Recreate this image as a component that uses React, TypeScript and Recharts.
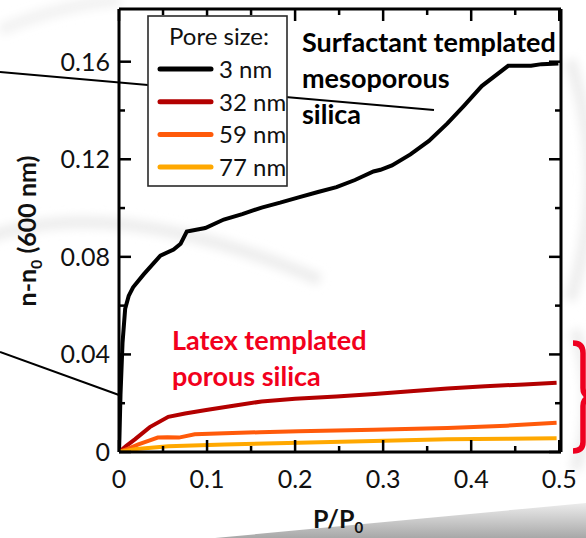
import React from 'react';
import { LineChart, Line, XAxis, YAxis, Legend } from 'recharts';

// ---- data (P/P0 and n-n0 at 600 nm) ----
const p3nm = [0, 0.0005, 0.0017, 0.004, 0.007, 0.011, 0.016, 0.028, 0.047, 0.062, 0.07, 0.077, 0.098, 0.119, 0.14, 0.162, 0.183, 0.204, 0.226, 0.247, 0.268, 0.289, 0.297, 0.31, 0.331, 0.352, 0.373, 0.392, 0.412, 0.442, 0.468, 0.48, 0.499];
const v3nm = [0, 0.006, 0.0235, 0.0447, 0.0587, 0.064, 0.0675, 0.0728, 0.0805, 0.083, 0.0854, 0.0904, 0.0918, 0.0953, 0.0975, 0.1002, 0.1022, 0.1044, 0.1066, 0.1086, 0.1115, 0.115, 0.1157, 0.1175, 0.122, 0.1275, 0.1347, 0.142, 0.15, 0.1583, 0.1583, 0.159, 0.1593];

const p32nm = [0, 0.008, 0.018, 0.035, 0.056, 0.075, 0.099, 0.13, 0.162, 0.2, 0.247, 0.29, 0.331, 0.373, 0.416, 0.46, 0.497];
const v32nm = [0, 0.0024, 0.0052, 0.0102, 0.0144, 0.0158, 0.0172, 0.019, 0.0207, 0.0218, 0.0228, 0.0238, 0.0249, 0.026, 0.027, 0.0277, 0.0284];

const p59nm = [0, 0.01, 0.022, 0.035, 0.044, 0.055, 0.068, 0.086, 0.12, 0.16, 0.204, 0.289, 0.373, 0.44, 0.497];
const v59nm = [0, 0.0013, 0.0031, 0.0048, 0.0059, 0.006, 0.0059, 0.0073, 0.0077, 0.0081, 0.0085, 0.0091, 0.0098, 0.0108, 0.012];

const p77nm = [0, 0.02, 0.056, 0.12, 0.204, 0.289, 0.373, 0.44, 0.497];
const v77nm = [0, 0.0012, 0.0024, 0.0031, 0.0038, 0.0045, 0.0052, 0.0054, 0.0056];

const seriesNames = ['3 nm', '32 nm', '59 nm', '77 nm'];
const seriesColors = ['#000000', '#b30000', '#ff5a0a', '#ffa800'];

const xTicks = [0, 0.05, 0.1, 0.15, 0.2, 0.25, 0.3, 0.35, 0.4, 0.45, 0.5];
const yTicks = [0, 0.02, 0.04, 0.06, 0.08, 0.1, 0.12, 0.14, 0.16];
const xDomain = [0, 0.502];
const yDomain = [0, 0.1816];

const FONT = 'Lato, "Open Sans", sans-serif';

const rows = (p: number[], v: number[]) => p.map((x, i) => ({ p: x, v: v[i] }));
const seriesData = [rows(p3nm, v3nm), rows(p32nm, v32nm), rows(p59nm, v59nm), rows(p77nm, v77nm)];

const isMajorX = (v: number) => Math.round(v * 100) % 10 === 0;
const isMajorY = (v: number) => Math.round(v * 100) % 4 === 0;
const fmtX = (v: number) => (v === 0 ? '0' : v.toFixed(1));
const fmtY = (v: number) => (v === 0 ? '0' : v.toFixed(2));

const TICK_W = 2.5;

const BottomTick = (props: any) => {
  const { x, y, payload } = props;
  const major = isMajorX(payload.value);
  return (
    <g>
      <line x1={x} x2={x} y1={y} y2={y - (major ? 12 : 6)} stroke="#000" strokeWidth={TICK_W} />
      {major && (
        <text x={x} y={y + 36} textAnchor="middle" fontSize={25} fontFamily={FONT} fill="#111">
          {fmtX(payload.value)}
        </text>
      )}
    </g>
  );
};

const TopTick = (props: any) => {
  const { x, y, payload } = props;
  const major = isMajorX(payload.value);
  return <line x1={x} x2={x} y1={y} y2={y + (major ? 12 : 6)} stroke="#000" strokeWidth={TICK_W} />;
};

const LeftTick = (props: any) => {
  const { x, y, payload } = props;
  const major = isMajorY(payload.value);
  return (
    <g>
      <line x1={x} x2={x + (major ? 12 : 6)} y1={y} y2={y} stroke="#000" strokeWidth={TICK_W} />
      {major && (
        <text x={x - 9} y={y + 9} textAnchor="end" fontSize={25} fontFamily={FONT} fill="#111">
          {fmtY(payload.value)}
        </text>
      )}
    </g>
  );
};

const RightTick = (props: any) => {
  const { x, y, payload } = props;
  const major = isMajorY(payload.value);
  return <line x1={x} x2={x - (major ? 12 : 6)} y1={y} y2={y} stroke="#000" strokeWidth={TICK_W} />;
};

const LegendBox = (props: any) => {
  const items = props.payload || [];
  return (
    <svg width={142} height={173} style={{ display: 'block' }}>
      <rect x={1} y={1} width={139} height={170} fill="#fff" stroke="#2a2a2a" strokeWidth={1.6} />
      <text x={72} y={30} textAnchor="middle" fontSize={24} fontFamily={FONT} fill="#111">
        Pore size:
      </text>
      {items.map((it: any, i: number) => {
        const cy = 54 + i * 32.7;
        return (
          <g key={i}>
            <line x1={13} x2={64} y1={cy} y2={cy} stroke={it.color} strokeWidth={5} strokeLinecap="round" />
            <text x={72} y={cy + 9} fontSize={24} fontFamily={FONT} fill="#111">
              {it.value}
            </text>
          </g>
        );
      })}
    </svg>
  );
};

const axisLineStyle = { stroke: '#000', strokeWidth: 3 };

export default function App() {
  return (
    <div style={{ position: 'absolute', left: 0, top: 0, width: 586, height: 538, background: '#fff', overflow: 'hidden' }}>
      <svg width={586} height={538} style={{ position: 'absolute', left: 0, top: 0 }}>
        <defs>
          <linearGradient id="band" x1="0" y1="0" x2="0" y2="1">
            <stop offset="0" stopColor="#ececec" />
            <stop offset="1" stopColor="#a8a8a8" />
          </linearGradient>
          <filter id="blur" x="-20%" y="-20%" width="140%" height="140%">
            <feGaussianBlur stdDeviation="5" />
          </filter>
        </defs>
        <g filter="url(#blur)" fill="none" stroke="#ededed" strokeWidth={12}>
          <path d="M -20 240 Q 110 190 320 280" />
          <path d="M 570 60 Q 610 180 570 300" />
          <path d="M 575 330 Q 600 400 575 470" />
          <path d="M 0 30 Q 60 5 120 0" stroke="#f2f2f2" />
        </g>
        <polygon points="215,538 586,503 586,538" fill="url(#band)" />
        <line x1={0} y1={72} x2={434} y2={110} stroke="#000" strokeWidth={2} />
        <line x1={0} y1={352} x2={119} y2={395} stroke="#000" strokeWidth={2} />
      </svg>

      <LineChart width={586} height={538} margin={{ top: 7, right: 23, bottom: 46, left: 59 }}>
        <XAxis
          xAxisId="b"
          dataKey="p"
          type="number"
          domain={xDomain}
          ticks={xTicks}
          interval={0}
          allowDataOverflow
          tickSize={0}
          tickMargin={0}
          height={40}
          axisLine={axisLineStyle}
          tickLine={false}
          tick={(p: any) => <BottomTick {...p} />}
        />
        <XAxis
          xAxisId="t"
          orientation="top"
          dataKey="p"
          type="number"
          domain={xDomain}
          ticks={xTicks}
          interval={0}
          allowDataOverflow
          tickSize={0}
          tickMargin={0}
          height={2}
          axisLine={axisLineStyle}
          tickLine={false}
          tick={(p: any) => <TopTick {...p} />}
        />
        <YAxis
          yAxisId="l"
          type="number"
          domain={yDomain}
          ticks={yTicks}
          interval={0}
          allowDataOverflow
          tickSize={0}
          tickMargin={0}
          width={60}
          axisLine={axisLineStyle}
          tickLine={false}
          tick={(p: any) => <LeftTick {...p} />}
        />
        <YAxis
          yAxisId="r"
          orientation="right"
          type="number"
          domain={yDomain}
          ticks={yTicks}
          interval={0}
          allowDataOverflow
          tickSize={0}
          tickMargin={0}
          width={2}
          axisLine={axisLineStyle}
          tickLine={false}
          tick={(p: any) => <RightTick {...p} />}
        />
        <Legend
          layout="vertical"
          align="center"
          verticalAlign="middle"
          content={(p: any) => <LegendBox {...p} />}
          wrapperStyle={{ position: 'absolute', left: 147, top: 15, width: 142, height: 173, zIndex: 2 }}
        />
        {seriesData.map((d, i) => (
          <Line
            key={seriesNames[i]}
            xAxisId="b"
            yAxisId="l"
            data={d}
            dataKey="v"
            name={seriesNames[i]}
            stroke={seriesColors[i]}
            strokeWidth={4}
            dot={false}
            type="linear"
            isAnimationActive={false}
          />
        ))}
      </LineChart>

      <svg width={586} height={538} style={{ position: 'absolute', left: 0, top: 0, pointerEvents: 'none' }}>
        <g fontFamily={FONT} fontWeight={700} fontSize={27} fill="#000">
          <text x={302} y={52}>Surfactant templated</text>
          <text x={302} y={88}>mesoporous</text>
          <text x={302} y={124}>silica</text>
        </g>
        <g fontFamily={FONT} fontWeight={700} fontSize={27} fill="#f2001c">
          <text x={172} y={350}>Latex templated</text>
          <text x={172} y={386}>porous silica</text>
        </g>
        <path
          d="M 573 343 Q 583 343 583 353 L 583 388 Q 583 396 591 397 Q 583 398 583 406 L 583 442 Q 583 451 573 451"
          fill="none"
          stroke="#ee0020"
          strokeWidth={5.5}
        />
        <text
          transform="translate(36 231) rotate(-90)"
          textAnchor="middle"
          fontFamily={FONT}
          fontWeight={700}
          fontSize={25}
          fill="#111"
        >
          <tspan>n-n</tspan>
          <tspan fontSize={16} dy={6}>0</tspan>
          <tspan dy={-6}> (600 nm)</tspan>
        </text>
        <text x={313} y={528} fontFamily={FONT} fontWeight={700} fontSize={25} fill="#111">
          <tspan>P/P</tspan>
          <tspan fontSize={15} dy={5}>0</tspan>
        </text>
      </svg>
    </div>
  );
}
